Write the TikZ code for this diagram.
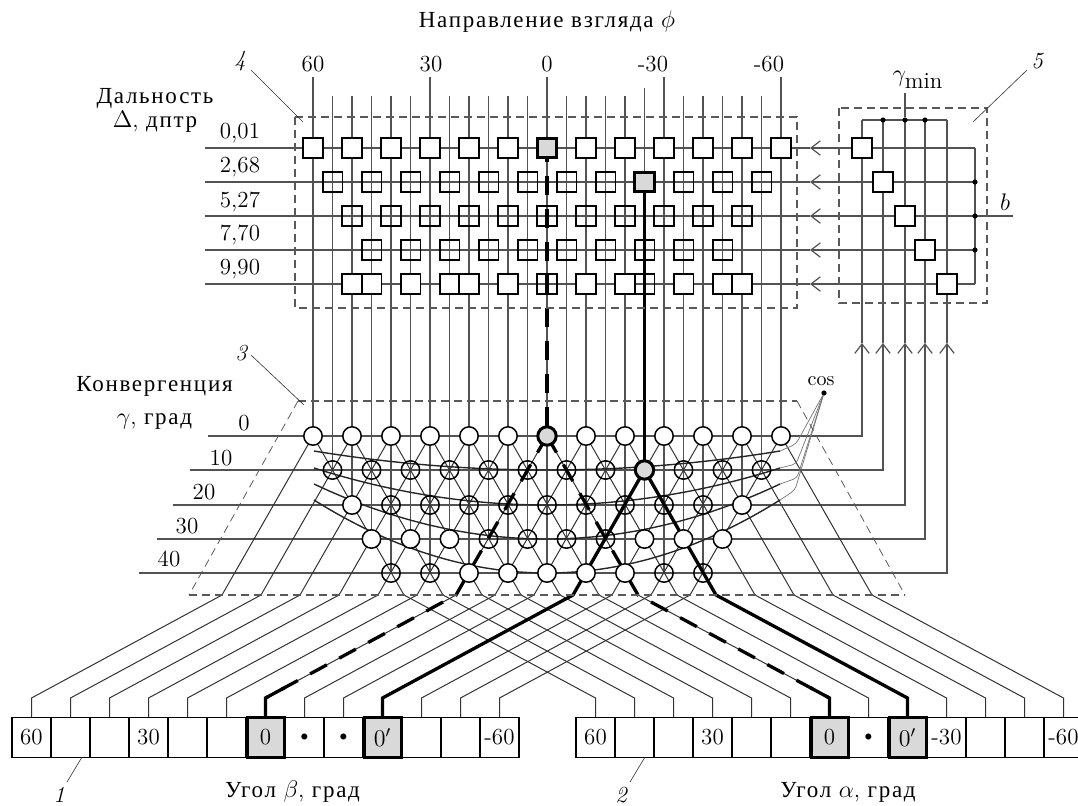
\documentclass[tikz,border=0pt]{standalone}
\usepackage{fontspec}
\usepackage{amsmath, amssymb}
\newfontfamily\cyr[LetterSpace=7.5]{Liberation Serif}
\usetikzlibrary{arrows.meta, backgrounds, calc}
\newcommand{\lblsize}{\fontsize{11.5}{14}\selectfont}
\colorlet{wiregray}{black!68}

\begin{document}
\begin{tikzpicture}[
  x=0.5pt, y=-0.5pt,
  lbl/.style={inner sep=0pt, font=\lblsize},
  sqbox/.style={draw, line width=0.8pt, minimum size=9.8pt, inner sep=0pt},
  sqwhite/.style={sqbox, fill=white},
  sqgray/.style={sqbox, fill=black!15, line width=1.5pt},
  circbox/.style={circle, draw, line width=0.75pt, minimum size=9.2pt, inner sep=0pt},
  circwhite/.style={circbox, fill=white},
  circgray/.style={circbox, fill=black!15, line width=1.5pt},
  cellbox/.style={draw, line width=0.7pt, minimum width=19.5pt, minimum height=20pt, inner sep=0pt, font=\lblsize},
  cellgray/.style={cellbox, fill=black!15, line width=1.5pt, minimum width=18.5pt},
  junct/.style={circle, fill=black, minimum size=2.6pt, inner sep=0pt},
  wire/.style={wiregray, line width=0.6pt},
  lattice/.style={black!80, line width=0.5pt},
  fan/.style={black!55, line width=0.35pt, rounded corners=2pt},
  curveline/.style={black!85, line width=0.7pt},
  boldline/.style={black, line width=1.65pt},
  bolddash/.style={boldline, dash pattern=on 9.5pt off 7pt},
  boxdash/.style={black!65, line width=0.65pt, dash pattern=on 4pt off 2.5pt},
  leader/.style={black!80, line width=0.3pt},
  barb/.style={-{Straight Barb[length=4.7pt,width=7.2pt]}}
]
  \useasboundingbox (0,0) rectangle (1078,805);

  % titles and labels
  \node[lbl] (viewtitle) at (547,22) {{\cyr Направление взгляда} $\phi$};
  \foreach \t/\x in {60/313,30/431,0/547,-30/653,-60/769}
    \node[lbl] (view\x) at (\x,64) {\t};
  \node[lbl, align=center] (rangetitle) at (155,110) {{\cyr Дальность}\\[-2pt]$\Delta$, {\cyr дптр}};
  \foreach \y/\t in {133/{0,01},167/{2,68},202/{5,27},235/{7,70},269/{9,90}}
    \node[lbl] (range\y) at (240,\y) {\t};
  \node[lbl, align=center] (convtitle) at (154.5,403) {{\cyr Конвергенция}\\[2.5pt]$\gamma$, {\cyr град}};
  \foreach \x/\y/\t in {244/423/0,221/458/10,204/492/20,187/526/30,169/559/40}
    \node[lbl] (conv\t) at (\x,\y) {\t};
  \node[lbl] (gammamin) at (918,80) {$\gamma_{\textstyle\mathrm{min}}$};
  \node[lbl] (blabel) at (1005,202) {$b$};
  \node[lbl] (coslabel) at (821,381) {\fontsize{10}{12}\selectfont cos};
  \node[lbl] (betatitle) at (292.5,792) {{\cyr Угол} $\beta$, {\cyr град}};
  \node[lbl] (alphatitle) at (848,792) {{\cyr Угол} $\alpha$, {\cyr град}};
  \node[lbl] (num4) at (240,61) {\itshape 4};
  \node[lbl] (num5) at (1037,61) {\itshape 5};
  \node[lbl] (num3) at (241,353) {\itshape 3};
  \node[lbl] (num1) at (59,795) {\itshape 1};
  \node[lbl] (num2) at (621,795) {\itshape 2};

  % depth cells
  \foreach \k in {0,2,...,10,14,16,...,24}
    \node[sqwhite] (s1-\k) at ({313+19.5*\k},148) {};
  \node[sqgray] (s1-12) at (547,148) {};
  \foreach \k in {1,3,...,15,19,21,23}
    \node[sqbox] (s2-\k) at ({313+19.5*\k},182) {};
  \node[sqgray] (s2-17) at (644.5,182) {};
  \foreach \k in {2,4,...,22}
    \node[sqbox] (s3-\k) at ({313+19.5*\k},216) {};
  \foreach \k in {3,5,...,21}
    \node[sqbox] (s4-\k) at ({313+19.5*\k},250) {};
  \foreach \k in {2,3,5,7,8,10,14,16,19,21,22}
    \node[sqwhite] (s5-\k) at ({313+19.5*\k},284) {};
  \foreach \k in {12,17}
    \node[sqbox] (s5-\k) at ({313+19.5*\k},284) {};

  % convergence cells
  \foreach \k in {0,2,...,10,14,16,...,24}
    \node[circwhite] (c0-\k) at ({313+19.5*\k},436) {};
  \node[circgray] (c0-12) at (547,436) {};
  \foreach \k in {1,3,...,15,19,21,23}
    \node[circbox] (c1-\k) at ({313+19.5*\k},470) {};
  \node[circgray] (c1-17) at (644.5,470) {};
  \foreach \k in {4,6,...,20}
    \node[circbox] (c2-\k) at ({313+19.5*\k},505) {};
  \foreach \k in {2,22}
    \node[circwhite] (c2-\k) at ({313+19.5*\k},505) {};
  \foreach \k in {9,11,13,15}
    \node[circbox] (c3-\k) at ({313+19.5*\k},539) {};
  \foreach \k in {3,5,7,17,19,21}
    \node[circwhite] (c3-\k) at ({313+19.5*\k},539) {};
  \foreach \k in {4,6,18,20}
    \node[circbox] (c4-\k) at ({313+19.5*\k},573) {};
  \foreach \k in {8,10,...,16}
    \node[circwhite] (c4-\k) at ({313+19.5*\k},573) {};

  % minimum selector
  \foreach \r/\x/\y in {1/862/148,2/883/182,3/905/216,4/925/250,5/947/284}
    \node[sqwhite] (m\r) at (\x,\y) {};
  \node[junct] (busa) at (883,120) {};
  \node[junct] (busb) at (905,120) {};
  \node[junct] (busc) at (925,120) {};
  \node[junct] (outb) at (975,182) {};
  \node[junct] (outc) at (975,216) {};
  \node[junct] (outd) at (975,250) {};
  \node[junct] (cosdot) at (824,393) {};

  % registers
  \foreach \i/\t/\s in {0/60/cellbox,1//cellbox,2//cellbox,3/30/cellbox,4//cellbox,5//cellbox,7/\scriptsize$\bullet$/cellbox,8/\scriptsize$\bullet$/cellbox,10//cellbox,11//cellbox,12/-60/cellbox,6/0/cellgray,9/$0'$/cellgray}
    \node[\s] (b\i) at ({31.5+39*\i},737.5) {\t};
  \foreach \i/\t/\s in {0/60/cellbox,1//cellbox,2//cellbox,3/30/cellbox,4//cellbox,5//cellbox,7/\scriptsize$\bullet$/cellbox,9/-30/cellbox,10//cellbox,11//cellbox,12/-60/cellbox,6/0/cellgray,8/$0'$/cellgray}
    \node[\s] (a\i) at ({595.5+39*\i},737.5) {\t};

  % dashed frames and leaders
  \draw[boxdash] (295,117) rectangle (797,308);
  \draw[boxdash] (839,108) rectangle (987,303);
  \draw[boxdash, line width=0.4pt] (298,401) -- (189,595);
  \draw[boxdash, line width=0.4pt] (797,401) -- (905,595);
  \draw[boxdash] (189,595) -- (905,595);
  \draw[boxdash] (298,401) -- (797,401);
  \draw[leader] (251,70) -- (303,122);
  \draw[leader] (1027,70) -- (973,122);
  \draw[leader] (251,355) -- (304,405);
  \draw[leader] (82,757) -- (67,782);
  \draw[leader] (645,757) -- (630,782);

  \begin{scope}[on background layer]
    % view columns
    \foreach \k/\r/\top in {0/0/77,1/1/96,2/2/96,3/3/96,4/4/96,5/3/96,6/4/77,7/3/96,8/4/96,9/3/96,10/4/96,11/3/96,12/4/77,13/3/96,14/4/96,15/3/96,16/4/96,17/3/88,18/4/77,19/3/96,20/4/96,21/3/96,22/2/96,23/1/96,24/0/77} {
      \coordinate (t\k) at ({313+19.5*\k},\top);
      \draw[wire] (t\k) -- (c\r-\k.center);
    }
    % depth rows with their arrows
    \foreach \r/\y in {1/148,2/182,3/216,4/250,5/284} {
      \coordinate (left\r) at (205,\y);
      \coordinate (tip\r) at (810,\y);
      \coordinate (bus\r) at (975,\y);
      \draw[wire, barb] (bus\r) -- (tip\r);
      \draw[wire] (tip\r) -- (left\r);
    }
    \draw[wire] (bus1) -- (bus5);
    \draw[wire] (bus3) -- (1013,216);
    % convergence rows up into the selector
    \foreach \r/\n/\xl/\xv/\y in {0/1/208/862/436,1/2/190/883/470,2/3/173/905/505,3/4/157/925/539,4/5/139/947/573} {
      \coordinate (rowl\r) at (\xl,\y);
      \coordinate (rowc\r) at (\xv,\y);
      \coordinate (rowa\r) at (\xv,343);
      \coordinate (rowt\r) at (\xv,120);
      \draw[wire, barb] (rowl\r) -- (rowc\r) -- (rowa\r);
      \draw[wire] (rowa\r) -- (rowt\r);
    }
    \draw[wire] (rowt0) -- (rowt4);
    \draw[wire] (905,93) -- (busb);
    % lattice diagonals
    \foreach \i [evaluate=\i as \k using int(2*\i)] in {0,...,12} {
      \coordinate (bs\i) at ({222+39*\i},595);
      \coordinate (bb\i) at ({31.5+39*\i},698);
      \coordinate (as\i) at ({404+39*\i},595);
      \coordinate (ab\i) at ({595.5+39*\i},698);
      \draw[lattice] (c0-\k.center) -- (bs\i) -- (bb\i) -- (b\i.north);
      \draw[lattice] (c0-\k.center) -- (as\i) -- (ab\i) -- (a\i.north);
    }
    % cosine curves
    \foreach \n/\ye/\ym/\xb/\yb in {1/451/470/796/444,2/468/505/796/464,3/484/539/797/478,4/500/573/795/490} {
      \coordinate (cl\n) at (314,\ye);
      \coordinate (cr\n) at (780,\ye);
      \draw[curveline] (cl\n) .. controls (469.3,{\ye+4/3*(\ym-\ye)}) and (624.7,{\ye+4/3*(\ym-\ye)}) .. (cr\n);
      \draw[fan] (cr\n) -- (\xb,\yb) -- (cosdot);
    }
    % selected paths
    \draw[boldline] (s2-17.center) -- (c1-17.center);
    \draw[boldline] (c1-17.center) -- (bs9) -- (bb9) -- (b9.north);
    \draw[boldline] (c1-17.center) -- (as8) -- (ab8) -- (a8.north);
    \draw[bolddash, dash phase=2.5pt] (s1-12.center) -- (c0-12.center);
    \draw[bolddash] (c0-12.center) -- (bs6) -- (bb6);
    \draw[bolddash] (c0-12.center) -- (as6) -- (ab6);
    \draw[boldline] ($(bb6)!0.1!(bs6)$) -- (bb6) -- (b6.north);
    \draw[boldline] ($(ab6)!0.1!(as6)$) -- (ab6) -- (a6.north);
  \end{scope}
\end{tikzpicture}
\end{document}
